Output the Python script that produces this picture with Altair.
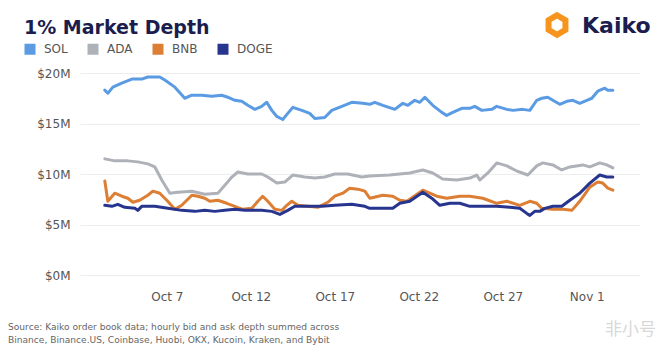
import altair as alt
import pandas as pd
import numpy as np

# Day-of-October (fractional; >31 means November) and values in $M
sol_days = [3.31, 3.49, 3.79, 4.32, 4.92, 5.51, 5.87, 6.58, 6.88, 7.48, 8.07, 8.49, 9.08, 9.68,
            10.27, 10.63, 11.05, 11.46, 11.82, 12.24, 12.65, 12.95, 13.25, 13.55, 13.90, 14.20,
            14.50, 15.04, 15.51, 15.81, 16.40, 16.82, 17.42, 18.01, 18.67, 19.08, 19.38, 19.86,
            20.57, 21.05, 21.35, 21.76, 22.06, 22.36, 22.83, 23.37, 23.66, 24.02, 24.56, 25.04,
            25.33, 25.75, 26.35, 26.64, 27.24, 27.60, 28.19, 28.61, 29.02, 29.32, 29.68, 29.98,
            30.39, 30.81, 31.17, 31.58, 32.00, 32.30, 32.65, 33.07, 33.25, 33.55]
sol_vals = [18.3, 18.0, 18.6, 19.0, 19.4, 19.4, 19.6, 19.6, 19.3, 18.6, 17.5, 17.8, 17.8, 17.7,
            17.8, 17.6, 17.3, 17.2, 16.8, 16.4, 16.7, 17.1, 16.3, 15.7, 15.4, 16.0,
            16.6, 16.3, 16.0, 15.5, 15.6, 16.3, 16.7, 17.1, 17.0, 16.9, 17.1, 16.8,
            16.4, 17.0, 16.8, 17.3, 17.1, 17.6, 16.8, 16.1, 15.8, 16.1, 16.5, 16.5,
            16.7, 16.3, 16.4, 16.7, 16.4, 16.3, 16.4, 16.3, 17.3, 17.5, 17.6, 17.3,
            16.9, 17.2, 17.3, 17.0, 17.3, 17.5, 18.2, 18.5, 18.3, 18.3]

ada_days = [3.31, 3.90, 4.68, 5.27, 5.87, 6.29, 6.70, 7.18, 7.65, 8.49, 9.26, 10.04, 10.57, 10.87,
            11.23, 11.82, 12.65, 13.01, 13.55, 14.02, 14.50, 15.21, 15.81, 16.40, 17.00, 17.77,
            18.61, 19.08, 20.27, 21.46, 22.24, 22.83, 23.42, 24.26, 25.04, 25.45, 25.63, 26.11,
            26.64, 27.24, 27.83, 28.49, 29.02, 29.38, 29.98, 30.51, 30.99, 31.76, 32.18, 32.77,
            33.19, 33.55]
ada_vals = [11.5, 11.3, 11.3, 11.2, 11.0, 10.7, 9.4, 8.1, 8.2, 8.3, 8.0, 8.1, 9.1, 9.7,
            10.2, 10.0, 10.0, 9.7, 9.1, 9.2, 9.9, 9.7, 9.6, 9.7, 10.0, 10.0,
            9.7, 9.8, 9.9, 10.1, 10.4, 10.1, 9.5, 9.4, 9.6, 9.9, 9.4, 10.1,
            11.1, 10.8, 10.3, 9.9, 10.8, 11.1, 10.9, 10.4, 10.7, 10.9, 10.7, 11.1,
            10.9, 10.6]

bnb_days = [3.31, 3.49, 3.90, 4.32, 4.68, 4.98, 5.39, 5.87, 6.17, 6.58, 7.00, 7.48, 7.89, 8.49,
            8.85, 9.26, 9.56, 10.04, 10.57, 11.05, 11.52, 12.06, 12.42, 12.71, 13.01, 13.43,
            13.85, 14.14, 14.44, 14.80, 15.39, 15.99, 16.58, 17.00, 17.48, 17.89, 18.37, 18.79,
            19.08, 19.86, 20.45, 20.87, 21.29, 22.24, 23.07, 23.66, 24.44, 25.04, 25.81, 26.64,
            27.24, 28.01, 28.61, 29.02, 29.32, 29.98, 30.57, 31.11, 31.58, 32.18, 32.65, 32.95,
            33.25, 33.55]
bnb_vals = [9.3, 7.3, 8.1, 7.8, 7.6, 7.2, 7.4, 7.9, 8.3, 8.1, 7.4, 6.5, 6.9, 7.9,
            7.8, 7.6, 7.3, 7.4, 7.1, 6.8, 6.5, 6.6, 7.3, 7.8, 7.3, 6.5,
            6.4, 6.9, 7.3, 6.9, 6.8, 6.7, 7.2, 7.8, 8.1, 8.6, 8.5, 8.3,
            7.6, 7.9, 7.8, 7.4, 7.3, 8.4, 7.8, 7.6, 7.8, 7.8, 7.6, 7.1,
            7.3, 6.9, 7.3, 7.1, 6.6, 6.5, 6.5, 6.4, 7.3, 8.7, 9.2, 9.1,
            8.6, 8.4]

doge_days = [3.31, 3.73, 4.08, 4.50, 5.10, 5.27, 5.51, 6.29, 7.06, 7.89, 8.67, 9.26, 9.86, 10.45,
             11.05, 11.64, 12.65, 13.25, 13.73, 14.20, 14.62, 15.39, 16.23, 17.00, 18.01, 18.79,
             19.08, 19.86, 20.45, 20.87, 21.46, 22.24, 22.77, 23.25, 23.85, 24.44, 25.04, 25.81,
             26.64, 27.42, 28.01, 28.43, 28.61, 28.90, 29.20, 29.50, 29.98, 30.51, 30.99, 31.58,
             32.18, 32.77, 33.19, 33.55]
doge_vals = [6.9, 6.8, 7.0, 6.7, 6.6, 6.4, 6.8, 6.8, 6.6, 6.4, 6.3, 6.4, 6.3, 6.4,
             6.5, 6.4, 6.4, 6.3, 6.0, 6.4, 6.8, 6.8, 6.8, 6.9, 7.0, 6.8,
             6.6, 6.6, 6.6, 7.1, 7.3, 8.2, 7.6, 6.9, 7.1, 7.1, 6.8, 6.8,
             6.8, 6.7, 6.6, 6.1, 5.9, 6.3, 6.3, 6.6, 6.8, 6.8, 7.4, 8.1,
             9.1, 9.9, 9.7, 9.7]

series = ["SOL", "ADA", "BNB", "DOGE"]
colors = ["#5A9BE3", "#AEB2B8", "#DC7E33", "#27358F"]
y_ticks = [0, 5, 10, 15, 20]

title_text = "1% Market Depth"
source_lines = ["Source: Kaiko order book data; hourly bid and ask depth summed across",
                "Binance, Binance.US, Coinbase, Huobi, OKX, Kucoin, Kraken, and Bybit"]

frames = []
for name, d, v in [("SOL", sol_days, sol_vals), ("ADA", ada_days, ada_vals),
                   ("BNB", bnb_days, bnb_vals), ("DOGE", doge_days, doge_vals)]:
    ts = pd.Timestamp("2023-10-01") + pd.to_timedelta(np.array(d) - 1, unit="D")
    frames.append(pd.DataFrame({"date": ts.strftime("%Y-%m-%dT%H:%M:%S"), "value": v, "coin": name}))
df = pd.concat(frames, ignore_index=True)
df["order"] = df["coin"].map({s: i for i, s in enumerate(series)})

FONT = "DejaVu Sans"

lines = alt.Chart(df).mark_line(strokeWidth=3, strokeJoin="round", strokeCap="round").encode(
    x=alt.X("date:T",
            scale=alt.Scale(domain=[alt.DateTime(year=2023, month=10, date=1, hours=20),
                                    alt.DateTime(year=2023, month=11, date=4, hours=4)]),
            axis=alt.Axis(title=None, format="%b %-d", grid=False, domain=False, ticks=False,
                          labelPadding=16, labelFontSize=12, labelColor="#555", labelFont=FONT,
                          values=[alt.DateTime(year=2023, month=10, date=7),
                                  alt.DateTime(year=2023, month=10, date=12),
                                  alt.DateTime(year=2023, month=10, date=17),
                                  alt.DateTime(year=2023, month=10, date=22),
                                  alt.DateTime(year=2023, month=10, date=27),
                                  alt.DateTime(year=2023, month=11, date=1)])),
    y=alt.Y("value:Q", scale=alt.Scale(domain=[0, 20], nice=False),
            axis=alt.Axis(title=None, values=y_ticks, labelExpr="'$' + datum.value + 'M'",
                          domain=False, ticks=False, labelPadding=10, labelFontSize=12,
                          labelColor="#555", labelFont=FONT, gridColor="#EDEDED")),
    color=alt.Color("coin:N", scale=alt.Scale(domain=series, range=colors),
                    legend=alt.Legend(title=None, orient="none", legendX=-56, legendY=-30,
                                      direction="horizontal", symbolType="square",
                                      symbolSize=25, symbolStrokeWidth=6, symbolOpacity=1,
                                      labelFontSize=12, labelColor="#555", labelFont=FONT,
                                      labelOffset=8, columnPadding=10)),
    order=alt.Order("order:Q"),
    detail="coin:N",
)

one = pd.DataFrame({"a": [0]})

title = alt.Chart(one).mark_text(text=title_text, align="left", baseline="alphabetic",
                                 font=FONT, fontSize=19, fontWeight="bold", color="#1B1D4E").encode(
    x=alt.value(-56), y=alt.value(-39))

src1 = alt.Chart(one).mark_text(text=source_lines[0], align="left", baseline="alphabetic",
                                font=FONT, fontSize=9.1, color="#666").encode(
    x=alt.value(-72), y=alt.value(57 + 200))
src2 = alt.Chart(one).mark_text(text=source_lines[1], align="left", baseline="alphabetic",
                                font=FONT, fontSize=9.1, color="#666").encode(
    x=alt.value(-72), y=alt.value(70 + 200))

logo_icon = alt.Chart(one).mark_point(
    shape="M0,-1L0.866,-0.5L0.866,0.5L0,1L-0.866,0.5L-0.866,-0.5Z",
    size=380, filled=False, stroke="#F7941D", strokeWidth=6, opacity=1).encode(
    x=alt.value(477), y=alt.value(-48))
logo_text = alt.Chart(one).mark_text(text="Kaiko", align="left", baseline="alphabetic",
                                     font=FONT, fontSize=22, fontWeight="bold", color="#1B1D4E").encode(
    x=alt.value(502), y=alt.value(-40))
watermark = alt.Chart(one).mark_text(text="非小号", align="left", baseline="alphabetic",
                                     font="Noto Sans CJK SC", fontSize=17, color="#D8D8D8").encode(
    x=alt.value(525), y=alt.value(62 + 200))

chart = alt.layer(lines, title, src1, src2, logo_icon, logo_text, watermark).properties(
    width=560, height=202,
    padding={"left": 80, "top": 73, "right": 32, "bottom": 75},
    autosize=alt.AutoSizeParams(type="none"),
    background="white",
).configure_view(stroke=None)

chart.save("out.html", embed_options={"renderer": "svg", "actions": False})
